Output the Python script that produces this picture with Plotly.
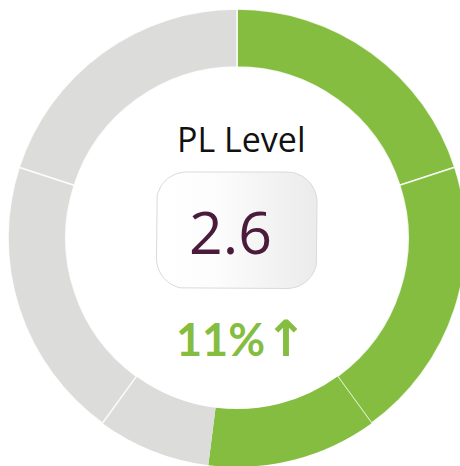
import numpy as np
import plotly.graph_objects as go

# ---- data ----
segment_labels = ["0-1", "1-2", "2-2.6", "2.6-3", "3-4", "4-5"]
segment_values = [1, 1, 0.6, 0.4, 1, 1]
segment_filled = [True, True, True, False, False, False]
kpi_title = "PL Level"
kpi_value = "2.6"
kpi_change = "11%"
kpi_arrow = "↑"

GREEN = "#84bd3f"
GREY = "#dcdcdb"
W, H = 466, 467

colors = [GREEN if f else GREY for f in segment_filled]
line_w = [1.6, 1.6, 0, 0, 1.6, 1.6]

fig = go.Figure()

fig.add_trace(go.Pie(
    labels=segment_labels, values=segment_values, sort=False,
    direction="clockwise", rotation=0, hole=0.747,
    marker=dict(colors=colors, line=dict(color="rgba(255,255,255,0.85)", width=line_w)),
    textinfo="none", hoverinfo="skip", showlegend=False,
    domain=dict(x=[8 / W, 1], y=[0, 1 - 9 / H]),
))

# rounded box with horizontal gradient
x0, x1, y0, y1, r = 156.5, 317.0, 172.0, 288.5, 30.0
def arc(cx, cy, a0, a1, n=16):
    t = np.linspace(np.radians(a0), np.radians(a1), n)
    return cx + r * np.cos(t), cy + r * np.sin(t)
pts = [arc(x1 - r, y0 + r, -90, 0), arc(x1 - r, y1 - r, 0, 90),
       arc(x0 + r, y1 - r, 90, 180), arc(x0 + r, y0 + r, 180, 270)]
bx = np.concatenate([p[0] for p in pts] + [pts[0][0][:1]])
by = np.concatenate([p[1] for p in pts] + [pts[0][1][:1]])
fig.add_trace(go.Scatter(
    x=bx, y=by, mode="lines", fill="toself",
    fillgradient=dict(type="horizontal",
                      colorscale=[[0, "#ffffff"], [0.35, "#fdfdfd"], [1, "#ebebeb"]]),
    line=dict(color="#dadada", width=1), hoverinfo="skip", showlegend=False,
))

change_text = (kpi_change +
               "<span style='font-family:DejaVu Sans;font-weight:bold;font-size:50px'>"
               + kpi_arrow + "</span>")

fig.update_layout(
    width=W, height=H, margin=dict(l=0, r=0, t=0, b=0),
    paper_bgcolor="white", plot_bgcolor="rgba(0,0,0,0)",
    xaxis=dict(range=[0, W], visible=False, fixedrange=True),
    yaxis=dict(range=[H, 0], visible=False, fixedrange=True),
    annotations=[
        dict(x=241, y=139, xref="x", yref="y", text=kpi_title, showarrow=False,
             font=dict(family="Open Sans", size=34, color="#111111")),
        dict(x=230, y=231, xref="x", yref="y", text=kpi_value, showarrow=False,
             font=dict(family="Open Sans", size=59, color="#4a1b3b")),
        dict(x=241, y=339, xref="x", yref="y",
             text=change_text, showarrow=False,
             font=dict(family="Lato", size=45, color=GREEN, weight="bold")),
    ],
)

fig.write_html("out.html", config={"displayModeBar": False},
               post_script="document.body.style.margin='0';document.body.style.overflow='hidden';")
